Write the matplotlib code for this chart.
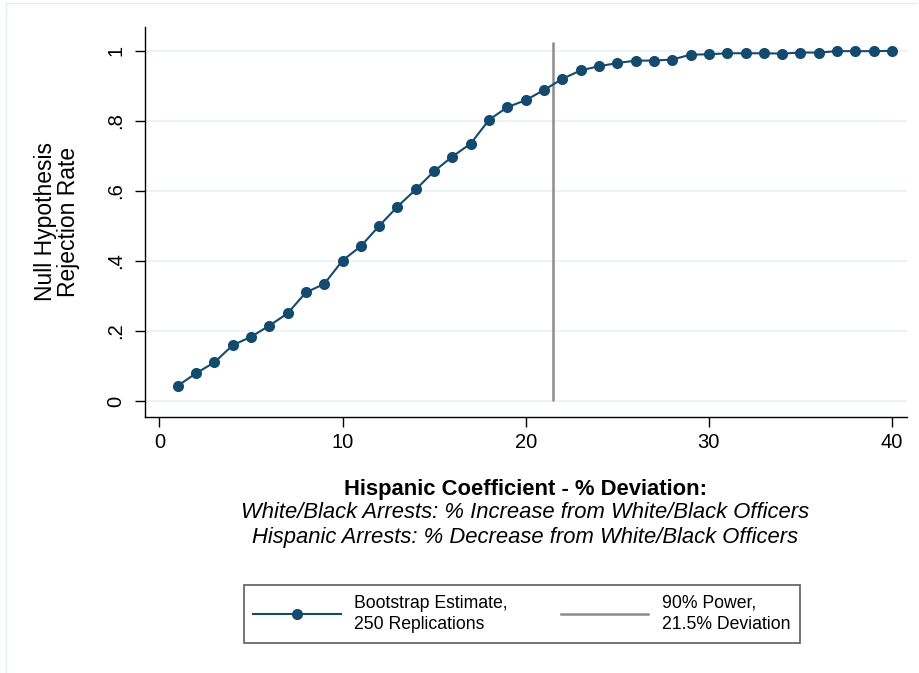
import matplotlib
matplotlib.use("Agg")
import matplotlib.pyplot as plt
from matplotlib.lines import Line2D

plt.rcParams['font.family'] = ['Liberation Sans', 'DejaVu Sans']

# Percent deviation of the Hispanic coefficient
deviation = list(range(1, 41))
# Share of bootstrap replications rejecting the null
rejection_rate = [
    0.043, 0.079, 0.110, 0.159, 0.183, 0.215, 0.250, 0.310, 0.334, 0.401,
    0.442, 0.500, 0.555, 0.604, 0.656, 0.698, 0.735, 0.803, 0.839, 0.859,
    0.888, 0.920, 0.944, 0.956, 0.965, 0.972, 0.972, 0.975, 0.989, 0.990,
    0.993, 0.993, 0.993, 0.992, 0.995, 0.995, 0.999, 0.999, 0.999, 1.000,
]
power_threshold = 21.5

y_ticks = [0, 0.2, 0.4, 0.6, 0.8, 1.0]
y_tick_labels = ["0", ".2", ".4", ".6", ".8", "1"]
x_ticks = [0, 10, 20, 30, 40]
x_tick_labels = ["0", "10", "20", "30", "40"]

series_label = "Bootstrap Estimate,\n250 Replications"
threshold_label = "90% Power,\n21.5% Deviation"

navy = "#134a6e"
grey = "#8c8c8c"

fig = plt.figure(figsize=(9.2, 6.73), dpi=100)
W, H = 920, 673

def fx(px):
    return px / W

def fy(py):
    return 1 - py / H

ax = fig.add_axes([fx(144.7), fy(416.7), fx(906.7) - fx(144.7), fy(27) - fy(416.7)])

ax.set_xlim(-0.8, 40.8)
ax.set_ylim(-0.045, 1.068)

for yv in y_ticks:
    ax.axhline(yv, color="#eaf2f3", lw=1.2, zorder=0)

ax.vlines(power_threshold, 0, 1.024, color=grey, lw=1.8, zorder=2)
ax.plot(deviation, rejection_rate, color=navy, lw=1.5, marker="o",
        markersize=8, markeredgewidth=0, zorder=3)

ax.spines["top"].set_visible(False)
ax.spines["right"].set_visible(False)
ax.spines["left"].set_linewidth(1.0)
ax.spines["bottom"].set_linewidth(1.0)

ax.set_yticks(y_ticks)
ax.set_yticklabels(y_tick_labels, rotation=90, va="center")
ax.set_xticks(x_ticks)
ax.set_xticklabels(x_tick_labels)
ax.tick_params(axis="both", direction="out", length=7, width=1.0,
               labelsize=14.5, colors="black", pad=5)
ax.tick_params(axis="y", pad=7)

fig.text(fx(57), fy(222), "Null Hypothesis\nRejection Rate", rotation=90,
         ha="center", va="center", fontsize=16.5, linespacing=1.0)

cx = fx(525.5)
fig.text(cx, fy(490), "Hispanic Coefficient - % Deviation:", ha="center",
         va="center", fontsize=15.8, fontweight="bold")
fig.text(cx, fy(513), "White/Black Arrests: % Increase from White/Black Officers",
         ha="center", va="center", fontsize=15.8, style="italic")
fig.text(cx, fy(537), "Hispanic Arrests: % Decrease from White/Black Officers",
         ha="center", va="center", fontsize=15.8, style="italic")

handles = [
    Line2D([], [], color=navy, lw=1.5, marker="o", markersize=8, markeredgewidth=0),
    Line2D([], [], color=grey, lw=1.8),
]
leg = fig.legend(handles, [series_label, threshold_label], ncol=2,
                 loc="center", bbox_to_anchor=(fx(522), fy(614)),
                 frameon=True, fancybox=False, fontsize=12.7,
                 handlelength=4.94, handletextpad=0.79, columnspacing=3.0,
                 borderpad=0.55, borderaxespad=0)
for t in leg.get_texts():
    t.set_linespacing(1.35)
leg.get_frame().set_edgecolor("#333333")
leg.get_frame().set_linewidth(1.2)

# faint outer frame of the graph region
fig.add_artist(Line2D([fx(6), fx(6)], [0, fy(3)], color="#e6eef0", lw=1.0))
fig.add_artist(Line2D([fx(6), fx(917)], [fy(3), fy(3)], color="#e6eef0", lw=1.0))

fig.savefig("out.png", dpi=100, facecolor="white")
